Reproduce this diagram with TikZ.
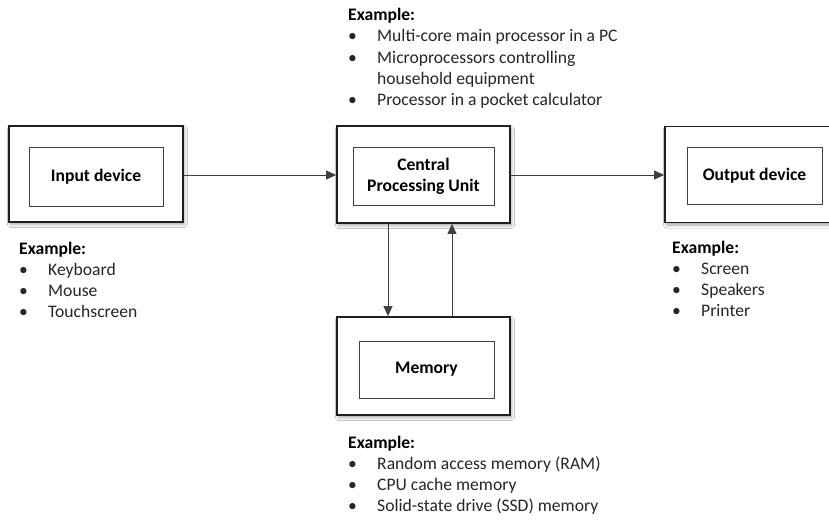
\documentclass[tikz,border=0pt]{standalone}
\usepackage{fontspec}
\setmainfont{Carlito}
\usetikzlibrary{arrows.meta,shadows.blur}

\definecolor{edgecol}{HTML}{1F1F1F}
\definecolor{wirecol}{HTML}{404040}
\definecolor{bodycol}{HTML}{262626}

\newcommand\exfont{\fontsize{17.6}{21.3}\selectfont}
\newcommand\bulletrow[1]{\makebox[29pt][l]{\textbullet}#1}
\newcommand\controw[1]{\hspace*{29pt}#1}
\newcommand\exlist[1]{\begin{tabular}[t]{@{}l@{}}\textbf{\color{black}Example:}\\#1\end{tabular}}

\tikzset{
  outerbox/.style={draw=edgecol, line width=1.8pt, fill=white, inner sep=0pt,
    blur shadow={shadow xshift=1.5pt, shadow yshift=-2.5pt,
                 shadow blur radius=3pt, shadow opacity=35}},
  innerbox/.style={draw=wirecol, line width=0.9pt, fill=white, inner sep=0pt,
    font=\exfont\bfseries, align=center, text=black},
  wire/.style={draw=wirecol, line width=0.9pt, -{Triangle[length=10pt,width=9pt]}},
  exblock/.style={inner sep=0pt, font=\exfont, text=bodycol, anchor=base west},
}

\begin{document}
\begin{tikzpicture}[x=1pt,y=-1pt]
  \useasboundingbox (0,0) rectangle (829,520);
  \fill[white] (0,0) rectangle (829,520);
  \begin{scope}
  \clip (0,0) rectangle (829,520);

  % outer frames
  \node[outerbox, minimum width=174pt, minimum height=96pt] (inframe)  at (96,174)    {};
  \node[outerbox, minimum width=173pt, minimum height=97pt] (cpuframe) at (423.5,174.5) {};
  \node[outerbox, minimum width=174pt, minimum height=96pt] (outframe) at (752,174.5)  {};
  \node[outerbox, minimum width=173pt, minimum height=98pt] (memframe) at (423.5,366)  {};

  % inner labelled boxes
  \node[innerbox, minimum width=134pt, minimum height=59pt] (inbox)  at (96,176.5)  {Input device};
  \node[innerbox, minimum width=141pt, minimum height=58pt] (cpubox) at (423.5,176) {Central\\Processing Unit};
  \node[innerbox, minimum width=135pt, minimum height=57pt] (outbox) at (754.5,175.5) {Output device};
  \node[innerbox, minimum width=135pt, minimum height=57pt] (membox) at (426.5,369.5) {Memory};

  % data flow
  \draw[wire] ([yshift=-1pt]inframe.east) -- ([yshift=-1pt]inframe.east -| cpuframe.west);
  \draw[wire] ([yshift=-0.5pt]cpuframe.east) -- ([yshift=-0.5pt]cpuframe.east -| outframe.west);
  \draw[wire] ([xshift=-35.5pt]cpuframe.south) -- ([xshift=-35.5pt]memframe.north);
  \draw[wire] ([xshift=28.5pt]memframe.north) -- ([xshift=28.5pt]cpuframe.south);

  % examples
  \node[exblock] (cpuex) at (348,20.5) {\exlist{%
    \bulletrow{Multi-core main processor in a PC}\\
    \bulletrow{Microprocessors controlling}\\
    \controw{household equipment}\\
    \bulletrow{Processor in a pocket calculator}}};
  \node[exblock] (inex) at (19,254) {\exlist{%
    \bulletrow{Keyboard}\\
    \bulletrow{Mouse}\\
    \bulletrow{Touchscreen}}};
  \node[exblock] (outex) at (672,253) {\exlist{%
    \bulletrow{Screen}\\
    \bulletrow{Speakers}\\
    \bulletrow{Printer}}};
  \node[exblock] (memex) at (348,448) {\exlist{%
    \bulletrow{Random access memory (RAM)}\\
    \bulletrow{CPU cache memory}\\
    \bulletrow{Solid-state drive (SSD) memory}}};
  \end{scope}
\end{tikzpicture}
\end{document}
